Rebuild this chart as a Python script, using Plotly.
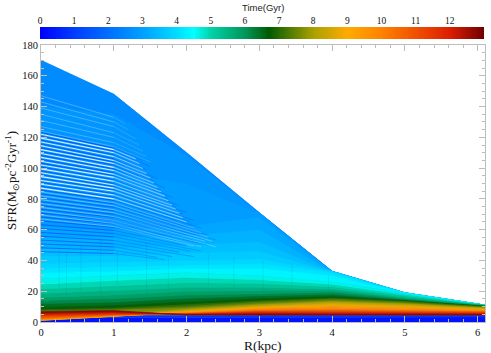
import numpy as np
import plotly.graph_objects as go
from plotly.colors import sample_colorscale

# --- values ---
RADII = [0, 1, 2, 3, 4, 5, 6.1]
TIMES = [0, .6, 1.2, 1.7, 2.2, 2.5, 2.7, 2.85, 3, 3.2, 3.4, 3.6, 3.8, 4, 4.2, 4.5, 4.8, 5.1, 5.4, 5.7, 6, 6.3, 6.6, 6.9, 7.2, 7.5, 7.8, 8.1, 8.5, 9, 9.5, 10, 10.5, 11, 11.5, 12, 12.5, 13]
SFR_R0 = [0, 3, 4, 30, 120, 170, 140, 100, 62, 55, 48, 43, 38, 35, 32, 28, 24, 21, 18, 15.5, 13.5, 11.5, 9.5, 8, 7.2, 5, 2, 1.2, 1.1, 1.2, 1.5, 2, 2.6, 3.4, 4.2, 5, 5.8, 6.7]
SFR_R1 = [0, 3, 4, 12, 105, 148, 135, 97, 60, 55, 48, 43, 39, 36, 33, 30, 26.5, 23, 20, 17, 14.8, 12.5, 10.5, 9, 8.2, 7.6, 5, 4, 3.7, 3.8, 4, 4.2, 4.5, 4.8, 5.3, 5.9, 6.7, 7.5]
SFR_R2 = [0, 3.2, 4.2, 8, 70, 110, 108, 90, 62, 56, 50, 45, 40, 37, 35, 32, 28.5, 25, 22, 19.5, 17, 15, 13, 11.2, 10, 9.2, 8.5, 7.8, 7.2, 6.5, 6, 5.7, 5.5, 5.3, 5.2, 5, 4.8, 4.5]
SFR_R3 = [0, 3.3, 4.4, 6.5, 25, 71, 70.8, 70.5, 68, 60, 52, 46, 41, 38, 35, 30, 27, 24.5, 22, 20, 18, 16.5, 15, 13.7, 13, 12, 11.3, 10.7, 10, 9, 8.4, 7.8, 7.3, 6.8, 6.3, 5.8, 5.2, 4.6]
SFR_R4 = [0, 3.3, 4.4, 5.5, 10, 33, 32.8, 32.8, 32.8, 32.8, 32.8, 32.8, 32.8, 32, 30, 26, 24, 22.5, 21, 20, 18.8, 17.5, 16.5, 15.5, 14.8, 14, 13.3, 12.7, 11.7, 10.3, 9.2, 8.2, 7.5, 6.9, 6.2, 5.6, 5, 4.4]
SFR_R5 = [0, 3.3, 4.4, 5, 7, 19, 18.9, 18.9, 18.9, 18.9, 18.9, 18.9, 18.9, 18.9, 18.9, 18.6, 17.5, 16.6, 15.8, 15, 14.6, 14.2, 13.8, 13.5, 13, 12.3, 11.8, 11.3, 10.5, 9.3, 8.5, 7.8, 7.2, 6.7, 6.1, 5.6, 5, 4.4]
SFR_R6 = [0, 3.3, 4.4, 4.8, 6, 11, 10.9, 10.9, 10.9, 10.9, 10.9, 10.9, 10.9, 10.9, 10.9, 10.9, 10.9, 10.8, 10.7, 10.6, 10.4, 10.2, 10.1, 10, 9.8, 9.5, 9.2, 8.9, 8.4, 7.8, 7.4, 7, 6.6, 6.2, 5.8, 5.4, 4.9, 4.4]

# gaps between the sparse time steps: height at R=0, at R=1, then where each one dies out
WHITE_R0 = [122, 119.5, 117, 114.5, 112, 109.5, 107, 104.5, 102, 99.5, 97, 94.5, 92, 89.5, 87]
WHITE_R1 = [112, 110, 107.5, 105, 103, 100.5, 98.5, 96, 94, 91.5, 89, 87, 85, 82.5, 80]
WHITE_END_R = [1.3, 1.35, 1.4, 1.45, 1.5, 1.55, 1.6, 1.65, 1.7, 1.75, 1.8, 1.85, 1.9, 1.95, 2.0]
WHITE_END_Y = [106, 103, 99.7, 96.5, 93.5, 90.3, 87.4, 84.6, 81.8, 78.8, 75.8, 73.4, 70.6, 67.8, 65]
FAINT_R0 = [147, 143, 139, 135, 131, 127, 124]
FAINT_R1 = [133, 130, 127, 123, 120, 116.5, 114]
FAINT_END_R = [1.15, 1.2, 1.3, 1.35, 1.4, 1.45, 1.5]
FAINT_END_Y = [129, 125, 119, 115, 111, 107.5, 104]
LOW_R0 = [84.5, 82, 79.5, 77, 74.5, 72, 69.5, 67]
LOW_R1 = [77.5, 75.5, 73, 71, 68.5, 66, 64, 62]
LOW_END_R = [2.1, 2.2, 2.3, 2.35, 2.25, 2.4, 2.2, 2.1]
LOW_END_Y = [61, 58, 55, 52.5, 52.5, 49, 49, 49.5]
DARK_R0 = [123.2, 120.7, 118.2, 115.7, 113.2, 110.7, 108.2, 105.7, 103.2, 100.7, 98.2, 95.7, 93.2, 90.7, 88.2, 85.7, 83.2, 80.7, 78.2, 75.7, 73.2, 70.7, 68.2, 65.7, 63.2, 60.7, 58.2, 55.7, 53.2, 50.7, 48.2, 45.7]
DARK_R1 = [113, 111, 108.6, 106, 104, 102, 99.5, 97, 95, 92.5, 90, 88, 86, 83.5, 81, 79, 76.8, 74.5, 72.3, 70, 68, 66, 63.8, 61.5, 59.5, 57.5, 55.3, 53, 50.8, 48.8, 46.6, 44.5]
DARK_END_R = [1.4, 1.5, 1.45, 1.6, 1.55, 1.7, 1.65, 1.8, 1.75, 1.9, 1.85, 2, 1.95, 2.1, 2.05, 2.2, 2.1, 2.3, 2.2, 2.4, 2.25, 2.1, 2.3, 2.15, 2, 2.2, 2.05, 1.9, 2.1, 1.8, 1.6, 1.7]
DARK_END_Y = [105, 101, 99, 93, 91.5, 87, 85.5, 81, 80, 75.5, 75, 71, 70, 66, 65, 61, 60.5, 56.5, 57, 53.5, 53.5, 53, 50, 50, 49.5, 46, 46, 45.5, 42.5, 42.5, 42, 40.5]
# faint vertical streaks
STREAK_R = [.25, .35, .55, .82, 1.05, 1.45, 1.75, 2.3, 2.65, 3.05, 3.45, 3.95]
STREAK_LOW = [22, 18, 20, 18, 24, 18, 20, 24, 22, 20, 24, 20]
STREAK_HIGH = [48, 46, 50, 55, 46, 52, 44, 44, 42, 40, 38, 30]

TIME_TICKS = list(range(13))
COLOR_T = [0, 1, 2, 3, 4, 4.5, 5, 6, 6.7, 8, 9, 10, 11, 12, 13]
COLOR_V = ["#0000ff", "#003cff", "#006eff", "#00a0ff", "#00dcff", "#00ffff", "#00d2aa", "#00965a", "#005a00",
           "#aaa000", "#ffaa00", "#ff8200", "#f05000", "#dc1e00", "#6e0000"]

SERIF = "Liberation Serif"
colorscale = [[t / 13, c] for t, c in zip(COLOR_T, COLOR_V)]
rows = list(zip(SFR_R0, SFR_R1, SFR_R2, SFR_R3, SFR_R4, SFR_R5, SFR_R6, strict=True))
assert len(rows) == len(TIMES)

fig = go.Figure()

# one ribbon between each pair of neighbouring time steps, later times on top
for i in range(len(TIMES) - 1):
    colour = sample_colorscale(colorscale, (TIMES[i] + TIMES[i + 1]) / 2 / 13)[0]
    fig.add_trace(go.Scatter(
        x=RADII + RADII[::-1],
        y=list(rows[i]) + list(rows[i + 1])[::-1],
        mode="lines", fill="toself", fillcolor=colour,
        line=dict(color=colour, width=0.6), hoverinfo="skip", showlegend=False))


def polylines(xs_list, ys_list, colour, width):
    xs, ys = [], []
    for x, y in zip(xs_list, ys_list):
        xs += list(x) + [None]
        ys += list(y) + [None]
    fig.add_trace(go.Scatter(x=xs, y=ys, mode="lines", line=dict(color=colour, width=width),
                             hoverinfo="skip", showlegend=False))


def gap_set(r0, r1, end_r, end_y, colour_a, colour_b, width):
    polylines([[0, 1]] * len(r0), [[a, b] for a, b in zip(r0, r1)], colour_a, width)
    polylines([[1, e] for e in end_r], [[b, c] for b, c in zip(r1, end_y)], colour_b, width)


gap_set(DARK_R0, DARK_R1, DARK_END_R, DARK_END_Y, "rgba(0,60,255,0.6)", "rgba(0,70,255,0.3)", 1)
gap_set(FAINT_R0, FAINT_R1, FAINT_END_R, FAINT_END_Y, "rgba(190,225,255,0.35)", "rgba(190,225,255,0.2)", 1)
gap_set(WHITE_R0, WHITE_R1, WHITE_END_R, WHITE_END_Y, "rgba(255,255,255,0.85)", "rgba(255,255,255,0.45)", 1.1)
gap_set(LOW_R0, LOW_R1, LOW_END_R, LOW_END_Y, "rgba(220,240,255,0.4)", "rgba(220,240,255,0.3)", 1)
polylines([[r, r] for r in STREAK_R], [[a, b] for a, b in zip(STREAK_LOW, STREAK_HIGH)],
          "rgba(0,90,200,0.12)", 1)

# colour strip
strip_t = np.arange(0, 13.02, 0.05)
fig.add_trace(go.Heatmap(x=strip_t, y=[0, 1], z=[strip_t, strip_t], colorscale=colorscale, zmin=0, zmax=13,
                         showscale=False, xaxis="x2", yaxis="y2", hoverinfo="skip"))

W, H = 491, 353
GRID = "#bdbdbd"
fig.update_layout(
    width=W, height=H, margin=dict(l=0, r=0, t=0, b=0), autosize=False,
    paper_bgcolor="white", plot_bgcolor="white", showlegend=False,
    font=dict(family=SERIF, color="#111111", size=12),
    xaxis=dict(domain=[41 / W, 485 / W], range=[0, 6.1], tickvals=[0, 1, 2, 3, 4, 5, 6], automargin=False,
               ticks="inside", ticklen=6, tickcolor=GRID, tickwidth=1, showgrid=False, zeroline=False,
               showline=True, linecolor=GRID, mirror="ticks", tickfont=dict(size=10.5),
               minor=dict(dtick=0.2, ticks="inside", ticklen=3, tickcolor=GRID, showgrid=False)),
    yaxis=dict(domain=[1 - 322 / H, 1 - 45 / H], range=[0, 180], dtick=20, automargin=False,
               ticks="inside", ticklen=6, tickcolor=GRID, tickwidth=1, showgrid=False, zeroline=False,
               showline=True, linecolor=GRID, mirror="ticks", tickfont=dict(size=10.5),
               minor=dict(dtick=5, ticks="inside", ticklen=3, tickcolor=GRID, showgrid=False)),
    xaxis2=dict(domain=[40 / W, 484 / W], range=[0, 13], anchor="y2", side="top", tickvals=TIME_TICKS, automargin=False,
                ticks="", showgrid=False, zeroline=False, showline=False, tickfont=dict(size=9.5)),
    yaxis2=dict(domain=[1 - 39 / H, 1 - 27 / H], range=[0, 1], anchor="x2", visible=False, automargin=False),
    annotations=[
        dict(text="Time(Gyr)", x=263 / W, y=1 - 7 / H, xref="paper", yref="paper", showarrow=False,
             font=dict(family="Liberation Sans", size=9.5, color="#222222"), xanchor="center", yanchor="middle"),
        dict(text="R(kpc)", x=263 / W, y=1 - 345 / H, xref="paper", yref="paper", showarrow=False,
             font=dict(size=13.5), xanchor="center", yanchor="middle"),
        dict(text="SFR(M<sub>\u2299</sub>pc<sup>-2</sup>Gyr<sup>-1</sup>)", x=12 / W, y=1 - 181 / H, xref="paper", yref="paper",
             showarrow=False, textangle=-90, font=dict(size=13), xanchor="center", yanchor="middle"),
    ],
)
fig.write_html("out.html", config={"displayModeBar": False},
               post_script="document.body.style.margin='0';document.body.style.overflow='hidden';")
